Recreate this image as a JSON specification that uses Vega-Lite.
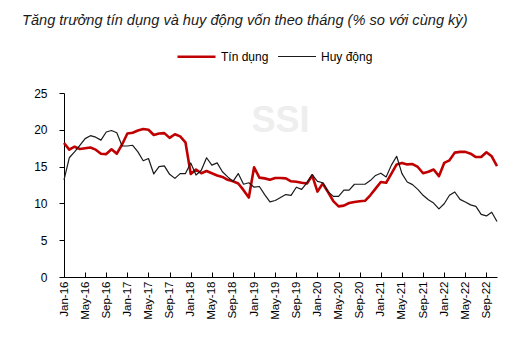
{
  "$schema": "https://vega.github.io/schema/vega-lite/v6.json",
  "width": 433,
  "height": 184,
  "autosize": {"type": "none"},
  "padding": {"left": 64, "top": 93, "right": 16, "bottom": 64},
  "background": "white",
  "title": {
    "text": "Tăng trưởng tín dụng và huy động vốn theo tháng (% so với cùng kỳ)",
    "anchor": "start",
    "frame": "group",
    "dx": -42,
    "offset": -4,
    "baseline": "alphabetic",
    "font": "Liberation Sans, Arial, sans-serif",
    "fontSize": 14.6,
    "fontStyle": "italic",
    "fontWeight": "normal",
    "color": "#1a1a1a"
  },
  "config": {
    "view": {"stroke": null},
    "font": "Liberation Sans, Arial, sans-serif"
  },
  "data": {
    "values": [
      {"m": "Jan-16", "Tín dụng": 18.2, "Huy động": 13.2},
      {"m": "Feb-16", "Tín dụng": 17.3, "Huy động": 16.2},
      {"m": "Mar-16", "Tín dụng": 17.7, "Huy động": 17.0},
      {"m": "Apr-16", "Tín dụng": 17.4, "Huy động": 17.9},
      {"m": "May-16", "Tín dụng": 17.5, "Huy động": 18.8},
      {"m": "Jun-16", "Tín dụng": 17.6, "Huy động": 19.2},
      {"m": "Jul-16", "Tín dụng": 17.3, "Huy động": 19.0},
      {"m": "Aug-16", "Tín dụng": 16.75, "Huy động": 18.6},
      {"m": "Sep-16", "Tín dụng": 16.7, "Huy động": 19.7},
      {"m": "Oct-16", "Tín dụng": 17.35, "Huy động": 19.9},
      {"m": "Nov-16", "Tín dụng": 16.75, "Huy động": 19.6},
      {"m": "Dec-16", "Tín dụng": 18.0, "Huy động": 17.8},
      {"m": "Jan-17", "Tín dụng": 19.5, "Huy động": 17.8},
      {"m": "Feb-17", "Tín dụng": 19.6, "Huy động": 17.9},
      {"m": "Mar-17", "Tín dụng": 19.9, "Huy động": 17.0},
      {"m": "Apr-17", "Tín dụng": 20.1, "Huy động": 15.8},
      {"m": "May-17", "Tín dụng": 20.0, "Huy động": 16.1},
      {"m": "Jun-17", "Tín dụng": 19.3, "Huy động": 14.0},
      {"m": "Jul-17", "Tín dụng": 19.5, "Huy động": 15.0},
      {"m": "Aug-17", "Tín dụng": 19.55, "Huy động": 15.1},
      {"m": "Sep-17", "Tín dụng": 18.9, "Huy động": 13.95},
      {"m": "Oct-17", "Tín dụng": 19.4, "Huy động": 13.4},
      {"m": "Nov-17", "Tín dụng": 19.1, "Huy động": 14.05},
      {"m": "Dec-17", "Tín dụng": 18.3, "Huy động": 14.05},
      {"m": "Jan-18", "Tín dụng": 14.0, "Huy động": 15.5},
      {"m": "Feb-18", "Tín dụng": 14.6, "Huy động": 13.85},
      {"m": "Mar-18", "Tín dụng": 14.1, "Huy động": 14.5},
      {"m": "Apr-18", "Tín dụng": 14.4, "Huy động": 16.2},
      {"m": "May-18", "Tín dụng": 14.1, "Huy động": 15.2},
      {"m": "Jun-18", "Tín dụng": 13.8, "Huy động": 15.5},
      {"m": "Jul-18", "Tín dụng": 13.6, "Huy động": 14.3},
      {"m": "Aug-18", "Tín dụng": 13.2, "Huy động": 13.6},
      {"m": "Sep-18", "Tín dụng": 13.0, "Huy động": 13.0},
      {"m": "Oct-18", "Tín dụng": 12.7, "Huy động": 14.05},
      {"m": "Nov-18", "Tín dụng": 11.8, "Huy động": 12.6},
      {"m": "Dec-18", "Tín dụng": 10.8, "Huy động": 12.8},
      {"m": "Jan-19", "Tín dụng": 14.9, "Huy động": 12.2},
      {"m": "Feb-19", "Tín dụng": 13.5, "Huy động": 12.3},
      {"m": "Mar-19", "Tín dụng": 13.4, "Huy động": 11.2},
      {"m": "Apr-19", "Tín dụng": 13.2, "Huy động": 10.2},
      {"m": "May-19", "Tín dụng": 13.45, "Huy động": 10.4},
      {"m": "Jun-19", "Tín dụng": 13.45, "Huy động": 10.8},
      {"m": "Jul-19", "Tín dụng": 13.4, "Huy động": 11.2},
      {"m": "Aug-19", "Tín dụng": 13.0, "Huy động": 11.1},
      {"m": "Sep-19", "Tín dụng": 12.95, "Huy động": 12.2},
      {"m": "Oct-19", "Tín dụng": 12.8, "Huy động": 11.9},
      {"m": "Nov-19", "Tín dụng": 12.7, "Huy động": 12.8},
      {"m": "Dec-19", "Tín dụng": 13.8, "Huy động": 13.9},
      {"m": "Jan-20", "Tín dụng": 11.6, "Huy động": 13.0},
      {"m": "Feb-20", "Tín dụng": 12.7, "Huy động": 12.8},
      {"m": "Mar-20", "Tín dụng": 11.55, "Huy động": 11.6},
      {"m": "Apr-20", "Tín dụng": 10.3, "Huy động": 10.95},
      {"m": "May-20", "Tín dụng": 9.6, "Huy động": 10.95},
      {"m": "Jun-20", "Tín dụng": 9.7, "Huy động": 11.8},
      {"m": "Jul-20", "Tín dụng": 10.05, "Huy động": 11.8},
      {"m": "Aug-20", "Tín dụng": 10.2, "Huy động": 12.6},
      {"m": "Sep-20", "Tín dụng": 10.3, "Huy động": 12.6},
      {"m": "Oct-20", "Tín dụng": 10.35, "Huy động": 12.6},
      {"m": "Nov-20", "Tín dụng": 11.1, "Huy động": 13.1},
      {"m": "Dec-20", "Tín dụng": 12.0, "Huy động": 13.8},
      {"m": "Jan-21", "Tín dụng": 12.9, "Huy động": 14.1},
      {"m": "Feb-21", "Tín dụng": 12.8, "Huy động": 13.6},
      {"m": "Mar-21", "Tín dụng": 14.05, "Huy động": 15.2},
      {"m": "Apr-21", "Tín dụng": 15.3, "Huy động": 16.4},
      {"m": "May-21", "Tín dụng": 15.5, "Huy động": 14.05},
      {"m": "Jun-21", "Tín dụng": 15.3, "Huy động": 12.9},
      {"m": "Jul-21", "Tín dụng": 15.35, "Huy động": 12.55},
      {"m": "Aug-21", "Tín dụng": 14.95, "Huy động": 11.9},
      {"m": "Sep-21", "Tín dụng": 14.1, "Huy động": 11.1},
      {"m": "Oct-21", "Tín dụng": 14.3, "Huy động": 10.5},
      {"m": "Nov-21", "Tín dụng": 14.6, "Huy động": 10.05},
      {"m": "Dec-21", "Tín dụng": 13.7, "Huy động": 9.25},
      {"m": "Jan-22", "Tín dụng": 15.5, "Huy động": 9.95},
      {"m": "Feb-22", "Tín dụng": 15.85, "Huy động": 11.1},
      {"m": "Mar-22", "Tín dụng": 16.9, "Huy động": 11.55},
      {"m": "Apr-22", "Tín dụng": 17.0, "Huy động": 10.55},
      {"m": "May-22", "Tín dụng": 17.0, "Huy động": 10.2},
      {"m": "Jun-22", "Tín dụng": 16.75, "Huy động": 9.8},
      {"m": "Jul-22", "Tín dụng": 16.3, "Huy động": 9.6},
      {"m": "Aug-22", "Tín dụng": 16.3, "Huy động": 8.5},
      {"m": "Sep-22", "Tín dụng": 16.95, "Huy động": 8.3},
      {"m": "Oct-22", "Tín dụng": 16.4, "Huy động": 8.8},
      {"m": "Nov-22", "Tín dụng": 15.05, "Huy động": 7.55}
    ]
  },
  "layer": [
    {
      "transform": [{"fold": ["Tín dụng", "Huy động"], "as": ["series", "value"]}],
      "mark": {"type": "line", "strokeJoin": "round", "strokeCap": "butt"},
      "encoding": {
        "x": {
          "field": "m",
          "type": "ordinal",
          "sort": null,
          "scale": {"type": "point", "padding": 0},
          "axis": {
            "title": null,
            "values": ["Jan-16", "May-16", "Sep-16", "Jan-17", "May-17", "Sep-17", "Jan-18", "May-18", "Sep-18", "Jan-19", "May-19", "Sep-19", "Jan-20", "May-20", "Sep-20", "Jan-21", "May-21", "Sep-21", "Jan-22", "May-22", "Sep-22"],
            "labelAngle": -90,
            "labelAlign": "right",
            "labelBaseline": "middle",
            "labelFontSize": 11.5,
            "labelColor": "#000000",
            "labelPadding": 9,
            "labelOverlap": false,
            "tickSize": -5,
            "tickColor": "#000000",
            "domainColor": "#000000",
            "domainWidth": 1,
            "grid": false
          }
        },
        "y": {
          "field": "value",
          "type": "quantitative",
          "scale": {"domain": [0, 25], "nice": false, "zero": true},
          "axis": {
            "title": null,
            "tickCount": 5,
            "labelFontSize": 12,
            "labelColor": "#000000",
            "labelPadding": 12,
            "labelOverlap": false,
            "labelFlush": false,
            "tickSize": 5,
            "tickColor": "#000000",
            "domainColor": "#000000",
            "grid": false
          }
        },
        "color": {
          "field": "series",
          "type": "nominal",
          "scale": {"domain": ["Tín dụng", "Huy động"], "range": ["#C00000", "#1a1a1a"]},
          "legend": {
            "title": null,
            "orient": "none",
            "direction": "horizontal",
            "legendX": 112,
            "legendY": -57,
            "symbolType": "stroke",
            "symbolSize": 1444,
            "labelFontSize": 12,
            "labelColor": "#000000",
            "labelOffset": 4,
            "columnPadding": 6,
            "encode": {
              "symbols": {
                "update": {
                  "strokeWidth": {"signal": "datum.value === 'Tín dụng' ? 2.6 : 1.2"}
                }
              }
            }
          }
        },
        "strokeWidth": {
          "field": "series",
          "type": "nominal",
          "scale": {"domain": ["Tín dụng", "Huy động"], "range": [2.6, 1.2]},
          "legend": null
        }
      }
    },
    {
      "data": {"values": [{"t": "SSI"}]},
      "mark": {
        "type": "text",
        "font": "Liberation Sans, Arial, sans-serif",
        "fontSize": 36,
        "fontWeight": "bold",
        "color": "#eeeeee",
        "align": "center",
        "baseline": "middle"
      },
      "encoding": {
        "text": {"field": "t"},
        "x": {"datum": "Jun-19"},
        "y": {"datum": 21.2}
      }
    }
  ]
}
